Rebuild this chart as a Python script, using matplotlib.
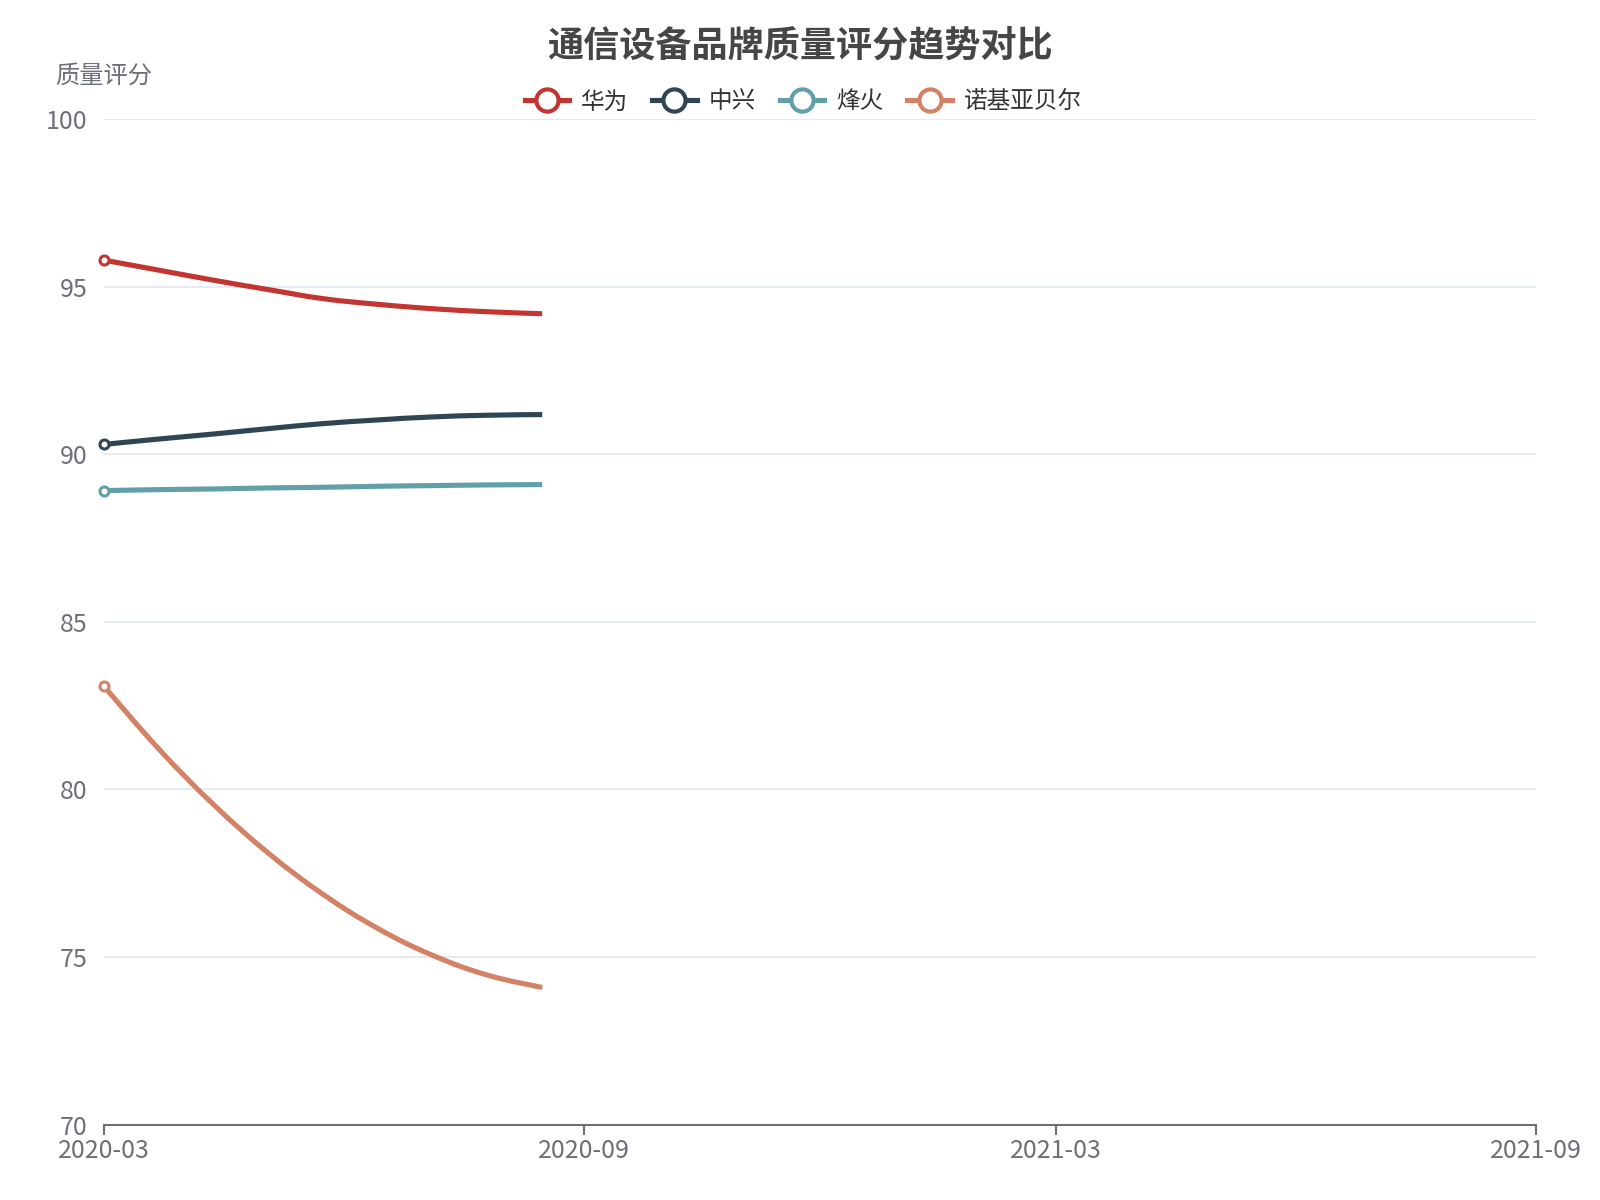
import numpy as np
import pandas as pd
import matplotlib
matplotlib.use('Agg')
import matplotlib.pyplot as plt
import matplotlib.dates as mdates
from matplotlib.lines import Line2D
from matplotlib.path import Path
from matplotlib.patches import PathPatch

plt.rcParams['font.family'] = ['Noto Sans CJK SC', 'DejaVu Sans']

# 数据
dates = ['2020-03-01', '2020-03-22', '2020-04-12', '2020-05-03', '2020-05-24',
         '2020-06-14', '2020-07-05', '2020-07-26', '2020-08-16']
huawei = [95.80, 95.50, 95.20, 94.92, 94.65, 94.48, 94.35, 94.26, 94.20]
zte = [90.30, 90.46, 90.61, 90.77, 90.92, 91.03, 91.12, 91.17, 91.19]
fiberhome = [88.92, 88.95, 88.97, 89.00, 89.02, 89.05, 89.07, 89.09, 89.10]
nokia = [83.08, 81.21, 79.55, 78.10, 76.87, 75.85, 75.05, 74.46, 74.09]

names = ['华为', '中兴', '烽火', '诺基亚贝尔']
colors = ['#c23531', '#2f4554', '#61a0a8', '#d48265']
series = [huawei, zte, fiberhome, nokia]

x_ticks = ['2020-03-01', '2020-09-01', '2021-03-01', '2021-09-01']
x_labels = ['2020-03', '2020-09', '2021-03', '2021-09']

axis_color = '#6E7079'
grid_color = '#E0E6F1'
lw = 3.7


def smooth_path(xs, ys, k=0.2):
    # 平滑折线（类似 echarts smooth），只影响绘制方式
    verts = [(xs[0], ys[0])]
    codes = [Path.MOVETO]
    n = len(xs)
    for i in range(n - 1):
        x0, y0 = xs[max(i - 1, 0)], ys[max(i - 1, 0)]
        x1, y1 = xs[i], ys[i]
        x2, y2 = xs[i + 1], ys[i + 1]
        x3, y3 = xs[min(i + 2, n - 1)], ys[min(i + 2, n - 1)]
        c1 = (x1 + (x2 - x0) * k, y1 + (y2 - y0) * k)
        c2 = (x2 - (x3 - x1) * k, y2 - (y3 - y1) * k)
        verts += [c1, c2, (x2, y2)]
        codes += [Path.CURVE4] * 3
    return Path(verts, codes)


xn = mdates.date2num(pd.to_datetime(dates))

fig = plt.figure(figsize=(16, 12), dpi=100)
ax = fig.add_axes([0.065, 0.0629, 0.895, 0.8376])

for s, c in zip(series, colors):
    p = PathPatch(smooth_path(xn, s), facecolor='none', edgecolor=c, linewidth=lw,
                  capstyle='butt', joinstyle='round', zorder=3)
    ax.add_patch(p)
    ax.plot(xn[:1], s[:1], linestyle='none', marker='o', markersize=6.5,
            markerfacecolor='white', markeredgecolor=c, markeredgewidth=2.2,
            zorder=4, clip_on=False)

ax.set_ylim(70, 100)
ax.set_yticks([70, 75, 80, 85, 90, 95, 100])
ax.set_xlim(mdates.date2num(pd.Timestamp(x_ticks[0])), mdates.date2num(pd.Timestamp(x_ticks[-1])))
ax.set_xticks(mdates.date2num(pd.to_datetime(x_ticks)))
ax.set_xticklabels(x_labels)

ax.grid(axis='y', color=grid_color, linewidth=1.2)
ax.grid(axis='x', visible=False)
ax.set_axisbelow(True)
for sp in ['left', 'top', 'right']:
    ax.spines[sp].set_visible(False)
ax.spines['bottom'].set_color(axis_color)
ax.spines['bottom'].set_linewidth(1.5)

ax.tick_params(axis='y', length=0, pad=12, labelsize=18, labelcolor=axis_color)
ax.tick_params(axis='x', length=7, width=1.5, color=axis_color, pad=3,
               labelsize=18, labelcolor=axis_color)

fig.text(0.065, 1 - 76 / 1200, '质量评分', ha='center', va='center',
         fontsize=17.5, color=axis_color)

fig.text(0.5, 1 - 46 / 1200, '通信设备品牌质量评分趋势对比', ha='center', va='center',
         fontsize=26, fontweight='bold', color='#464646')

handles = [Line2D([0], [0], color=c, linewidth=lw, marker='o', markersize=16,
                  markerfacecolor='white', markeredgecolor=c, markeredgewidth=3)
           for c in colors]
fig.legend(handles, names, loc='center', bbox_to_anchor=(0.502, 1 - 102 / 1200), ncol=4,
           frameon=False, fontsize=17, handlelength=1.9, handletextpad=0.5,
           columnspacing=1.0, labelcolor='#333333')

fig.savefig('out.png', dpi=100)
